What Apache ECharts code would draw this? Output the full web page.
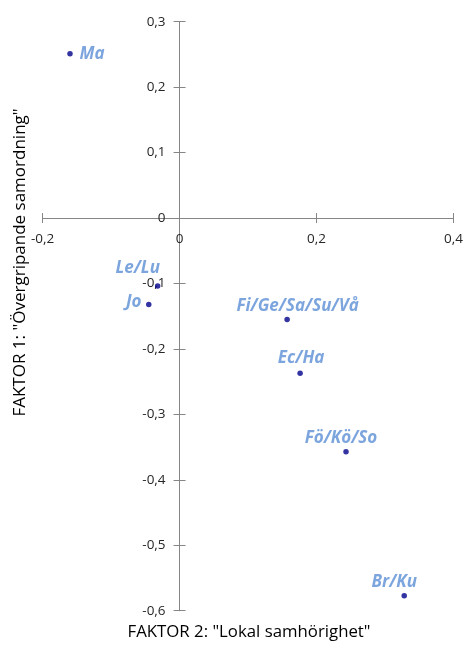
<!DOCTYPE html>
<html><head><meta charset="utf-8">
<script src="https://cdn.jsdelivr.net/npm/echarts@6/dist/echarts.min.js"></script>
<style>html,body{margin:0;padding:0;background:#fff}#c{width:466px;height:645px}</style>
</head><body><div id="c"></div>
<script>
const names = ['Ma','Le/Lu','Jo','Fi/Ge/Sa/Su/Vå','Ec/Ha','Fö/Kö/So','Br/Ku'];
const factor2 = [-0.160,-0.032,-0.045,0.157,0.176,0.243,0.328];
const factor1 = [0.251,-0.104,-0.132,-0.155,-0.237,-0.357,-0.577];
const xTitle = 'FAKTOR 2: "Lokal samhörighet"';
const yTitle = 'FAKTOR 1: "Övergripande samordning"';
// label placement offsets from each point (style only)
const labelOffsets = [[22,0],[-20,-18],[-15,-2],[10.5,-13],[1,-15],[-5,-14],[-10,-13]];
const fmt = v => (Math.abs(v) < 1e-9 ? '0' : v.toFixed(1).replace('.', ','));
const axisCol = '#868686';
const font = 'Open Sans';
const G = {left:42.6, right:11, top:21.7, bottom:34.3};
const W = 466, H = 645;
const chart = echarts.init(document.getElementById('c'));

function buildOption(xOff, yOff) {
  const xAx = (inside, showLbl) => ({type:'value', min:-0.2, max:0.4, interval:0.2, splitLine:{show:false},
    position:'bottom', offset:xOff,
    axisLine:{onZero:false, lineStyle:{color:axisCol, width:1}},
    axisTick:{show:true, inside:inside, length:5, lineStyle:{color:axisCol}},
    axisLabel:{show:showLbl, formatter:fmt, margin:14, color:'#262626', fontSize:13.5, fontFamily:font}});
  const yAx = (inside, showLbl) => ({type:'value', min:-0.6, max:0.3, interval:0.1, splitLine:{show:false},
    position:'left', offset:yOff,
    axisLine:{onZero:false, lineStyle:{color:axisCol, width:1}},
    axisTick:{show:true, inside:inside, length:6, lineStyle:{color:axisCol}},
    axisLabel:{show:showLbl, formatter:fmt, margin:14, color:'#262626', fontSize:13.5, fontFamily:font}});
  return {
    animation:false,
    grid:Object.assign({containLabel:false}, G),
    xAxis:[xAx(false,true), xAx(true,false)],
    yAxis:[yAx(false,true), yAx(true,false)],
    graphic:[
      {type:'text', x:249, y:624, style:{text:xTitle, font:'16.8px "Open Sans"', fill:'#000', align:'center', verticalAlign:'top'}},
      {type:'text', rotation:Math.PI/2, x:11.5, y:262.5, style:{text:yTitle, font:'17px "Open Sans"', fill:'#000', align:'center', verticalAlign:'top'}}
    ],
    series:[{
      type:'scatter', xAxisIndex:0, yAxisIndex:0, symbolSize:5.5,
      itemStyle:{color:'#00008b'},
      label:{show:true, position:'inside', formatter:p=>p.name, color:'#5b8fd6', fontStyle:'italic', fontWeight:'bold',
        fontSize:17, fontFamily:font},
      data: names.map((n,i)=>({name:n, value:[factor2[i], factor1[i]], label:{offset:labelOffsets[i]}}))
    }]
  };
}
chart.setOption(buildOption(0, 0));
const zero = chart.convertToPixel({gridIndex:0}, [0, 0]);
const xOff = -((H - G.bottom) - zero[1]);
const yOff = -(zero[0] - G.left);
chart.setOption(buildOption(xOff, yOff), true);
</script></body></html>
